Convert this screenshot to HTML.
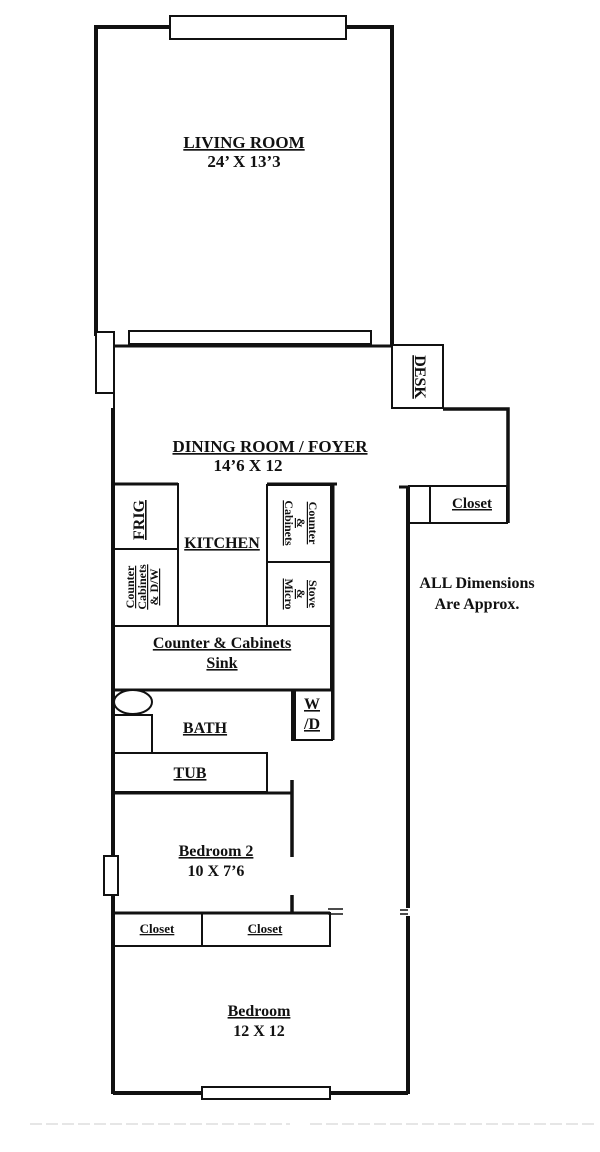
<!DOCTYPE html>
<html><head><meta charset="utf-8"><style>
body{margin:0;background:#fff}
svg{display:block}
text{font-family:"Liberation Serif",serif;font-weight:bold;fill:#111;text-anchor:middle;text-decoration:underline}
.n{text-decoration:none}
</style></head><body>
<svg width="600" height="1152" viewBox="0 0 600 1152" xmlns="http://www.w3.org/2000/svg">
<g stroke="#111" fill="none">
<path d="M96 336 V27 H170 M346 27 H392 V346" stroke-width="4"/>
<rect x="170" y="16" width="176" height="23" stroke-width="2" fill="#fff"/>
<path d="M113 346 H392" stroke-width="3"/>
<rect x="129" y="331" width="242" height="13" stroke-width="2" fill="#fff"/>
<rect x="96" y="332" width="18" height="61" stroke-width="2" fill="#fff"/>
<path d="M114 346 V408" stroke-width="2"/>
<path d="M113 408 V1094" stroke-width="4"/>
<rect x="392" y="345" width="51" height="63" stroke-width="2"/>
<path d="M443 409 H508 V523" stroke-width="3.5"/>
<rect x="409" y="486" width="98" height="37" stroke-width="2"/>
<path d="M430 486 V523" stroke-width="2"/>
<path d="M399 487 H410" stroke-width="3"/>
<path d="M408 487 V908 M408 916 V1094" stroke-width="4"/>
<path d="M400 910 H408 M400 914 H408" stroke-width="1.5"/>
<path d="M113 484 H178 M267 484 H337" stroke-width="3"/>
<rect x="113" y="484" width="65" height="65" stroke-width="2"/>
<rect x="113" y="549" width="65" height="77" stroke-width="2"/>
<rect x="267" y="485" width="64" height="77" stroke-width="2"/>
<rect x="267" y="562" width="64" height="64" stroke-width="2"/>
<path d="M333 484 V740" stroke-width="3"/>
<rect x="113" y="626" width="218" height="64" stroke-width="2"/>
<path d="M113 690 H333" stroke-width="3"/>
<ellipse cx="133" cy="702" rx="19" ry="12" stroke-width="2" fill="#fff"/>
<rect x="113" y="715" width="39" height="38" stroke-width="2"/>
<rect x="292" y="690" width="40" height="50" stroke-width="2"/>
<path d="M294 690 V740" stroke-width="4"/>
<rect x="113" y="753" width="154" height="39" stroke-width="2"/>
<path d="M113 793 H292" stroke-width="3"/>
<path d="M292 780 V857 M292 895 V912" stroke-width="3.5"/>
<path d="M328 909 H343 M328 914 H343" stroke-width="1.5"/>
<rect x="113" y="913" width="217" height="33" stroke-width="2"/>
<path d="M113 913 H330" stroke-width="3"/>
<path d="M202 913 V946" stroke-width="2"/>
<rect x="104" y="856" width="14" height="39" stroke-width="2" fill="#fff"/>
<path d="M113 1093 H408" stroke-width="4"/>
<rect x="202" y="1087" width="128" height="12" stroke-width="2" fill="#fff"/>
<path d="M30 1124 H290 M310 1124 H595" stroke="#ccc" stroke-width="1" stroke-dasharray="12 4"/>
</g>
<text x="244" y="148" font-size="17">LIVING ROOM</text>
<text x="244" y="167" font-size="17" class="n">24’ X 13’3</text>
<text x="270" y="452" font-size="17">DINING ROOM / FOYER</text>
<text x="248" y="471" font-size="17" class="n">14’6 X 12</text>
<text x="472" y="508" font-size="15">Closet</text>
<text x="222" y="548" font-size="16">KITCHEN</text>
<text x="477" y="588" font-size="16" class="n">ALL Dimensions</text>
<text x="477" y="609" font-size="16" class="n">Are Approx.</text>
<text x="222" y="648" font-size="16">Counter &amp; Cabinets</text>
<text x="222" y="668" font-size="16">Sink</text>
<text x="205" y="733" font-size="16">BATH</text>
<text x="190" y="778" font-size="16">TUB</text>
<text x="312" y="709" font-size="16">W</text>
<text x="312" y="729" font-size="16">/D</text>
<text x="216" y="856" font-size="16">Bedroom 2</text>
<text x="216" y="876" font-size="16" class="n">10 X 7’6</text>
<text x="157" y="933" font-size="13">Closet</text>
<text x="265" y="933" font-size="13">Closet</text>
<text x="259" y="1016" font-size="16">Bedroom</text>
<text x="259" y="1036" font-size="16" class="n">12 X 12</text>
<text transform="translate(415 377) rotate(90)" font-size="16">DESK</text>
<text transform="translate(144 520) rotate(-90)" font-size="16">FRIG</text>
<g font-size="12">
<text transform="translate(134 587) rotate(-90)">Counter</text>
<text transform="translate(146 587) rotate(-90)">Cabinets</text>
<text transform="translate(158 587) rotate(-90)">&amp; D/W</text>
<text transform="translate(309 523) rotate(90)">Counter</text>
<text transform="translate(297 523) rotate(90)">&amp;</text>
<text transform="translate(285 523) rotate(90)">Cabinets</text>
<text transform="translate(309 594) rotate(90)">Stove</text>
<text transform="translate(297 594) rotate(90)">&amp;</text>
<text transform="translate(285 594) rotate(90)">Micro</text>
</g>
</svg>
</body></html>
